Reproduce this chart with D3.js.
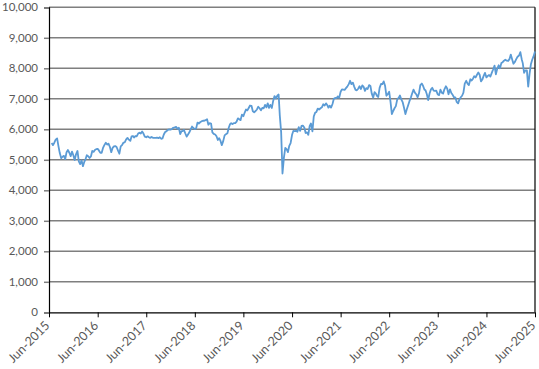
<!DOCTYPE html>
<html>
<head>
<meta charset="utf-8">
<script src="https://cdn.jsdelivr.net/npm/d3@7"></script>
<style>
  body { margin: 0; background: #fff; }
  .axis text { font-family: Lato, "Open Sans", sans-serif; font-size: 11.5px; fill: #595959; }
  .axis.x text { font-size: 12.5px; }
</style>
</head>
<body>
<div id="chart"></div>
<script>
// Index level, sampled on the 1st, 11th and 21st of each month (first point 21 Jun 2015)
const v2015 = [5550,
  5480, 5560, 5660,  5700, 5450, 5220,  5050, 5100, 5130,
  5020, 5250, 5320,  5230, 5120, 5270,  5150, 4990, 5180];
const v2016 = [5290, 4950, 4860,  4980, 4790, 4930,  5010, 5150, 5120,
  5060, 5110, 5290,  5260, 5320, 5350,  5360, 5300, 5230,
  5230, 5390, 5480,  5560, 5500, 5530,  5420, 5250, 5390,
  5440, 5450, 5420,  5300, 5200, 5440,  5480, 5560, 5570];
const v2017 = [5670, 5720, 5660,  5620, 5770, 5780,  5730, 5780, 5770,
  5860, 5890, 5860,  5930, 5860, 5760,  5740, 5770, 5740,
  5720, 5750, 5720,  5720, 5720, 5730,  5710, 5740, 5690,
  5700, 5830, 5910,  5940, 5980, 6000,  5990, 6010, 6050];
const v2018 = [6060, 6080, 6020,  6050, 5840, 5940,  5940, 5980, 5870,
  5760, 5830, 5900,  6000, 6090, 6040,  6010, 6030, 6220,
  6190, 6230, 6260,  6280, 6280, 6300,  6330, 6150, 6200,
  6190, 5900, 5850,  5830, 5770, 5650,  5710, 5620, 5480];
const v2019 = [5620, 5800, 5840,  5870, 6050, 6170,  6200, 6170, 6200,
  6200, 6250, 6360,  6330, 6300, 6480,  6430, 6550, 6650,
  6620, 6700, 6780,  6770, 6590, 6560,  6600, 6650, 6740,
  6690, 6620, 6700,  6690, 6800, 6720,  6850, 6700, 6800];
const v2020 = [6700, 6930, 7090,  7010, 7100, 7140,  6440, 5900, 4550,
  5080, 5390, 5350,  5250, 5460, 5550,  5820, 5950, 5940,
  5950, 5920, 6070,  5950, 6110, 6120,  6060, 5880, 5900,
  5820, 6100, 6190,  5930, 6420, 6540,  6570, 6680, 6650];
const v2021 = [6690, 6720, 6820,  6780, 6850, 6790,  6710, 6770, 6710,
  6830, 7000, 7030,  7020, 7080, 7030,  7230, 7310, 7300,
  7290, 7350, 7400,  7480, 7590, 7480,  7530, 7400, 7290,
  7280, 7330, 7410,  7320, 7440, 7390,  7260, 7350, 7320];
const v2022 = [7450, 7420, 7170,  7040, 7220, 7170,  7100, 7060, 7360,
  7490, 7480, 7570,  7430, 7100, 7150,  7230, 6900, 6500,
  6600, 6690, 6760,  6990, 7030, 7110,  6970, 6880, 6700,
  6500, 6650, 6780,  6930, 7040, 7180,  7300, 7200, 7150];
const v2023 = [7050, 7180, 7450,  7500, 7420, 7300,  7280, 7150, 6960,
  7180, 7310, 7360,  7270, 7260, 7270,  7140, 7120, 7300,
  7200, 7170, 7310,  7410, 7340, 7150,  7310, 7190, 7130,
  7050, 7050, 6900,  6850, 6980, 7050,  7100, 7200, 7500];
const v2024 = [7590, 7500, 7450,  7640, 7600, 7660,  7740, 7700, 7780,
  7860, 7790, 7570,  7630, 7750, 7850,  7700, 7750, 7780,
  7730, 7850, 7960,  8090, 7800, 7980,  8100, 8000, 8170,
  8200, 8250, 8280,  8250, 8240, 8300,  8450, 8300, 8150];
const v2025 = [8210, 8300, 8380,  8420, 8530, 8300,  8170, 7850, 7930,
  7930, 7400, 7820,  8130, 8280, 8390,  8550];

const sampleDays = [1, 11, 21];
const yTicks = [0, 1000, 2000, 3000, 4000, 5000, 6000, 7000, 8000, 9000, 10000];
const xTickYears = [2015, 2016, 2017, 2018, 2019, 2020, 2021, 2022, 2023, 2024, 2025];

const values = [].concat(v2015, v2016, v2017, v2018, v2019, v2020, v2021, v2022, v2023, v2024, v2025);
// index 0 is 21 Jun 2015 -> slot 2 of June 2015
const data = values.map((v, i) => {
  const slot = i + 2;
  return { date: new Date(2015, 5 + Math.floor(slot / 3), sampleDays[slot % 3]), value: v };
});

const width = 539, height = 369;
const marginLeft = 49, marginRight = 4, marginTop = 7.3, marginBottom = 56.7;

const x = d3.scaleTime()
  .domain([new Date(2015, 5, 1), new Date(2025, 5, 1)])
  .range([marginLeft, width - marginRight]);

const y = d3.scaleLinear()
  .domain([0, 10000])
  .range([height - marginBottom, marginTop]);

const svg = d3.select("#chart").append("svg")
  .attr("width", width)
  .attr("height", height)
  .attr("viewBox", [0, 0, width, height]);

// gridlines
svg.append("g")
  .selectAll("line")
  .data(yTicks.slice(1))
  .join("line")
  .attr("x1", marginLeft)
  .attr("x2", width - marginRight)
  .attr("y1", d => y(d))
  .attr("y2", d => y(d))
  .attr("stroke", "#7f7f7f")
  .attr("stroke-width", 1.5);

// right border
svg.append("line")
  .attr("x1", width - marginRight).attr("x2", width - marginRight)
  .attr("y1", y(10000)).attr("y2", y(0))
  .attr("stroke", "#000").attr("stroke-width", 1.2);

// line
svg.append("path")
  .datum(data)
  .attr("fill", "none")
  .attr("stroke", "#5b9bd5")
  .attr("stroke-width", 1.8)
  .attr("stroke-linejoin", "round")
  .attr("d", d3.line().x(d => x(d.date)).y(d => y(d.value)));

// y axis
svg.append("g")
  .attr("class", "axis")
  .attr("transform", `translate(${marginLeft},0)`)
  .call(d3.axisLeft(y).tickValues(yTicks).tickSize(5).tickPadding(6).tickFormat(d3.format(",")))
  .call(g => g.select(".domain").attr("stroke", "#000").attr("stroke-width", 1.2))
  .call(g => g.selectAll(".tick line").attr("stroke", "#7f7f7f").attr("stroke-width", 1.5));

// x axis
svg.append("g")
  .attr("class", "axis x")
  .attr("transform", `translate(0,${height - marginBottom})`)
  .call(d3.axisBottom(x)
    .tickValues(xTickYears.map(yr => new Date(yr, 5, 1)))
    .tickSize(5)
    .tickSizeOuter(0)
    .tickFormat(d3.timeFormat("%b-%Y")))
  .call(g => g.select(".domain").attr("stroke", "#000").attr("stroke-width", 1.2))
  .call(g => g.selectAll(".tick line").attr("stroke", "#000"))
  .call(g => g.selectAll(".tick text")
    .attr("text-anchor", "end")
    .attr("dy", null)
    .attr("y", 0)
    .attr("transform", "translate(1,14) rotate(-45)"));
</script>
</body>
</html>
